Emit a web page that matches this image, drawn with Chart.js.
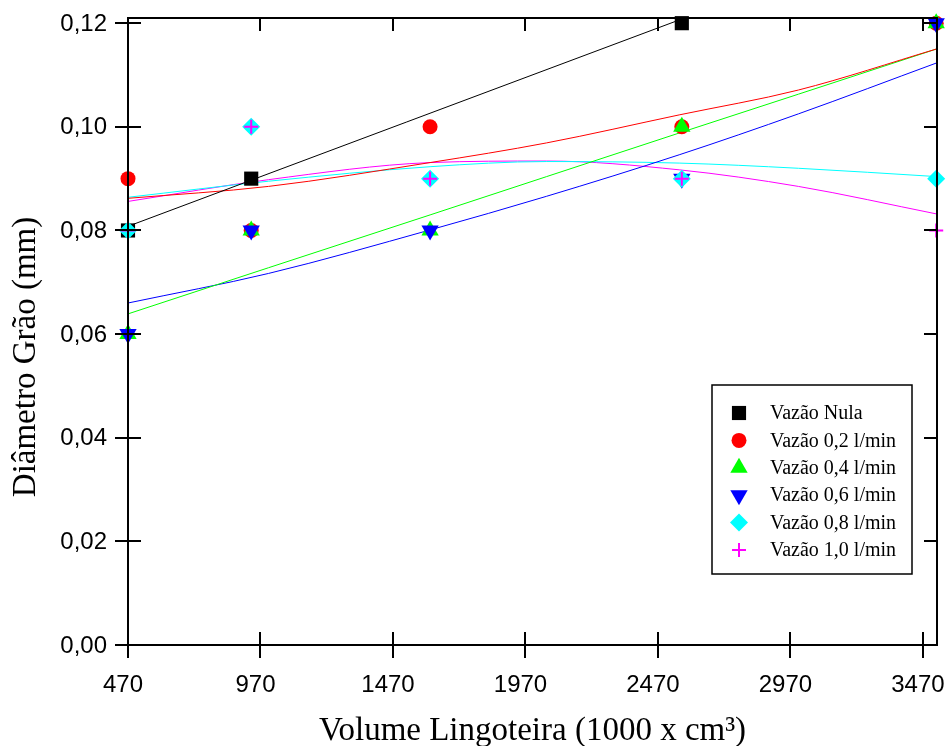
<!DOCTYPE html>
<html>
<head>
<meta charset="utf-8">
<script src="https://cdn.jsdelivr.net/npm/chart.js@4/dist/chart.umd.min.js"></script>
<style>
  body { margin: 0; background: #fff; }
  canvas { display: block; }
</style>
</head>
<body>
<canvas id="grao" width="950" height="746"></canvas>
<script>
// volumes das lingoteiras (1000 x cm3)
var volumes = [470, 935, 1610, 2560, 3520];

// diametro de grao medido (mm)
var vazaoNula = [0.08, 0.09, null, 0.12];
var vazao02 = [0.09, 0.08, 0.10, 0.10, 0.12];
var vazao04 = [0.06, 0.08, 0.08, 0.10, 0.12];
var vazao06 = [0.06, 0.08, 0.08, 0.09, 0.12];
var vazao08 = [0.08, 0.10, 0.09, 0.09, 0.09];
var vazao10 = [0.08, 0.10, 0.09, 0.09, 0.08];

// curvas de ajuste
var ajusteNulaX = [470, 2570];
var ajusteNulaY = [0.0808, 0.1210];
var ajusteX = [470, 1000, 1610, 2050, 2550, 3000, 3520];
var ajuste02 = [0.0862, 0.0885, 0.0931, 0.0969, 0.1023, 0.1071, 0.1150];
var ajuste04 = [0.0639, 0.0728, 0.0830, 0.0904, 0.0988, 0.1063, 0.1150];
var ajuste06 = [0.0660, 0.0717, 0.0801, 0.0866, 0.0946, 0.1025, 0.1123];
var ajuste08 = [0.0864, 0.0895, 0.0923, 0.0933, 0.0930, 0.0920, 0.0904];
var ajuste10 = [0.0856, 0.0898, 0.0931, 0.0934, 0.0917, 0.0885, 0.0832];

// eixos
var xTicks = [470, 970, 1470, 1970, 2470, 2970, 3470];
var xTickLabels = ['470', '970', '1470', '1970', '2470', '2970', '3470'];
var yTicks = [0, 0.02, 0.04, 0.06, 0.08, 0.10, 0.12];
var yTickLabels = ['0,00', '0,02', '0,04', '0,06', '0,08', '0,10', '0,12'];

function pontos (xs, ys) {
    return ys.map(function (y, i) { return {x: xs[i], y: y}; });
}

function serie (label, ys, cor, estilo, raio, ordem, rot) {
    return {
        label: label,
        data: pontos(volumes, ys),
        pointStyle: estilo,
        pointRadius: raio,
        pointRotation: rot || 0,
        backgroundColor: cor,
        borderColor: cor,
        borderWidth: estilo === 'cross' ? 2 : 0,
        showLine: false,
        clip: false,
        order: ordem,
        legenda: true
    };
}

function ajuste (xs, ys, cor) {
    return {
        data: pontos(xs, ys),
        showLine: true,
        borderColor: cor,
        borderWidth: 1,
        pointRadius: 0,
        cubicInterpolationMode: 'monotone',
        fill: false,
        order: 10
    };
}

var eixosPlugin = {
    id: 'eixos',
    afterDatasetsDraw: function (chart) {
        var ctx = chart.ctx, a = chart.chartArea;
        var xs = chart.scales.x, ys = chart.scales.y;
        ctx.save();
        ctx.strokeStyle = '#000';
        ctx.lineWidth = 2;
        ctx.strokeRect(a.left, a.top, a.right - a.left, a.bottom - a.top);
        ctx.beginPath();
        xTicks.forEach(function (v) {
            var px = Math.round(xs.getPixelForValue(v));
            ctx.moveTo(px, a.bottom - 13); ctx.lineTo(px, a.bottom + 13);
            ctx.moveTo(px, a.top); ctx.lineTo(px, a.top + 13);
        });
        yTicks.forEach(function (v) {
            var py = Math.round(ys.getPixelForValue(v));
            ctx.moveTo(a.left - 13, py); ctx.lineTo(a.left + 13, py);
            ctx.moveTo(a.right - 13, py); ctx.lineTo(a.right, py);
        });
        ctx.stroke();

        ctx.fillStyle = '#000';
        ctx.font = '24px "Liberation Sans", Arial, sans-serif';
        ctx.textAlign = 'center';
        ctx.textBaseline = 'alphabetic';
        xTicks.forEach(function (v, i) {
            ctx.fillText(xTickLabels[i], xs.getPixelForValue(v) - 5, a.bottom + 47);
        });
        ctx.textAlign = 'right';
        ctx.textBaseline = 'middle';
        yTicks.forEach(function (v, i) {
            ctx.fillText(yTickLabels[i], a.left - 21, ys.getPixelForValue(v) + 1);
        });

        ctx.font = '33px "Liberation Serif", "Times New Roman", serif';
        ctx.textAlign = 'center';
        ctx.textBaseline = 'alphabetic';
        ctx.fillText('Volume Lingoteira (1000 x cm³)', (a.left + a.right) / 2, 740);
        ctx.translate(35, 357);
        ctx.rotate(-Math.PI / 2);
        ctx.fillText('Diâmetro Grão (mm)', 0, 0);
        ctx.restore();

        // legenda
        ctx.save();
        ctx.fillStyle = '#fff';
        ctx.fillRect(712, 385, 200, 189);
        ctx.strokeStyle = '#000';
        ctx.lineWidth = 1.5;
        ctx.strokeRect(712, 385, 200, 189);
        ctx.font = '20px "Liberation Serif", "Times New Roman", serif';
        ctx.textAlign = 'left';
        ctx.textBaseline = 'middle';
        var linha = 0;
        chart.data.datasets.forEach(function (ds) {
            if (!ds.legenda) return;
            var cy = 413 + linha * 27.4;
            ctx.fillStyle = ds.backgroundColor;
            ctx.strokeStyle = ds.borderColor;
            ctx.lineWidth = ds.borderWidth;
            Chart.helpers.drawPoint(ctx, {
                pointStyle: ds.pointStyle,
                radius: ds.pointRadius,
                rotation: ds.pointRotation,
                borderWidth: ds.borderWidth
            }, 739, cy);
            ctx.fillStyle = '#000';
            ctx.fillText(ds.label, 770, cy + 1);
            linha++;
        });
        ctx.restore();
    }
};

var chart = new Chart(document.getElementById('grao').getContext('2d'), {
    type: 'scatter',
    data: {
        datasets: [
            serie('Vazão Nula', vazaoNula, '#000000', 'rect', 10, 6),
            serie('Vazão 0,2 l/min', vazao02, '#ff0000', 'circle', 7.5, 5),
            serie('Vazão 0,4 l/min', vazao04, '#00ff00', 'triangle', 10, 4),
            serie('Vazão 0,6 l/min', vazao06, '#0000ff', 'triangle', 10, 3, 180),
            serie('Vazão 0,8 l/min', vazao08, '#00ffff', 'rectRot', 9, 2),
            serie('Vazão 1,0 l/min', vazao10, '#ff00ff', 'cross', 7, 1),
            ajuste(ajusteNulaX, ajusteNulaY, '#000000'),
            ajuste(ajusteX, ajuste02, '#ff0000'),
            ajuste(ajusteX, ajuste04, '#00ff00'),
            ajuste(ajusteX, ajuste06, '#0000ff'),
            ajuste(ajusteX, ajuste08, '#00ffff'),
            ajuste(ajusteX, ajuste10, '#ff00ff')
        ]
    },
    options: {
        responsive: false,
        animation: false,
        layout: { padding: { left: 128, right: 13, top: 18, bottom: 101 } },
        scales: {
            x: { type: 'linear', min: 470, max: 3523, display: false },
            y: { type: 'linear', min: 0, max: 0.121, display: false }
        },
        plugins: {
            legend: { display: false },
            tooltip: { enabled: false }
        }
    },
    plugins: [eixosPlugin]
});
</script>
</body>
</html>
